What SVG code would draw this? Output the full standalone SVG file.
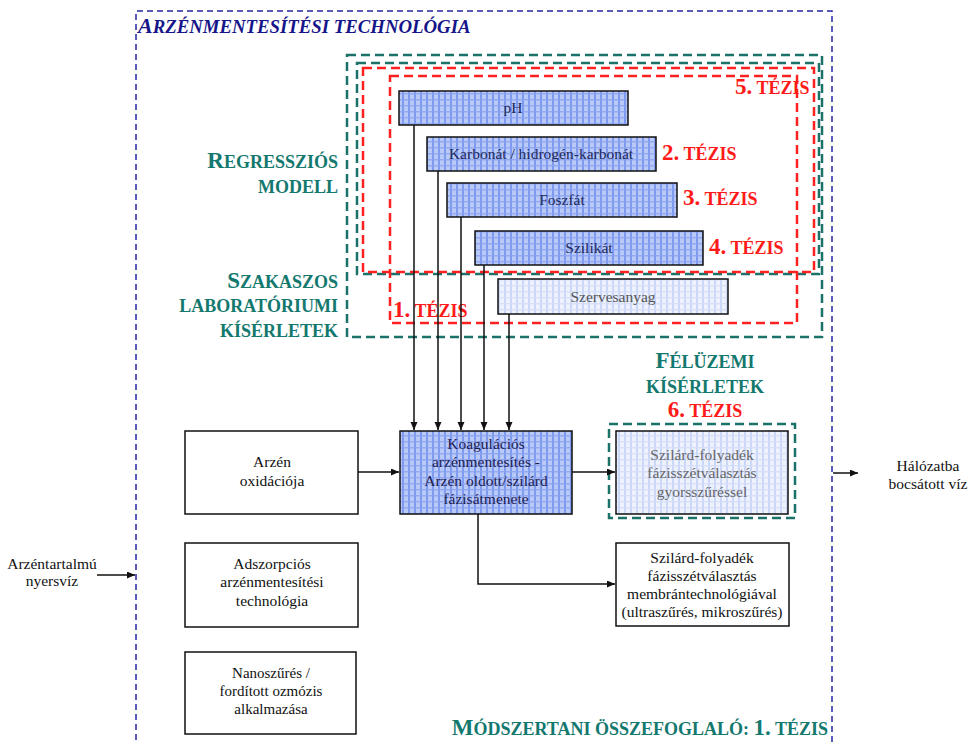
<svg xmlns="http://www.w3.org/2000/svg" width="972" height="743" viewBox="0 0 972 743">
<style>
.serif{font-family:"Liberation Serif","Times New Roman",serif}
.lbl{font-family:"Liberation Serif","Times New Roman",serif;font-size:15.5px;fill:#111;text-anchor:middle}
.bar{stroke:#111;stroke-width:1.5;fill:url(#grid)}
.barl{stroke:#111;stroke-width:1.5;fill:url(#gridl)}
.box{stroke:#111;stroke-width:1.5;fill:#fff}
.bt{font-family:"Liberation Serif","Times New Roman",serif;font-size:15.5px;fill:#222a58;text-anchor:middle}
.teal{font-family:"Liberation Serif","Times New Roman",serif;font-weight:bold;fill:#13786e}
.red{font-family:"Liberation Serif","Times New Roman",serif;font-weight:bold;fill:#ff1a1a}
.tdash{fill:none;stroke:#1b7268;stroke-width:2.5;stroke-dasharray:9 5}
.rdash{fill:none;stroke:#ff2020;stroke-width:2.5;stroke-dasharray:9 5}
.conn{fill:none;stroke:#111;stroke-width:1.5}
.big{font-size:23px}
.sm{font-size:18px}
</style>
<defs>
<pattern id="grid" width="6" height="6" patternUnits="userSpaceOnUse">
<rect width="6" height="6" fill="#b9c9f8"/>
<rect x="0" y="0" width="2" height="6" fill="#7e9aee"/>
<rect x="0" y="3" width="6" height="1.5" fill="#8aa3f0" opacity="0.8"/>
</pattern>
<pattern id="gridl" width="6" height="6" patternUnits="userSpaceOnUse">
<rect width="6" height="6" fill="#eef2fd"/>
<rect x="0" y="0" width="2" height="6" fill="#cbd7f8"/>
<rect x="0" y="3" width="6" height="1.5" fill="#d3ddf9" opacity="0.8"/>
</pattern>
<marker id="arr" markerWidth="9" markerHeight="8" refX="8" refY="3.5" orient="auto" markerUnits="userSpaceOnUse">
<path d="M0,0 L8,3.5 L0,7 z" fill="#111"/>
</marker>
</defs>

<g id="frame">
<path d="M136,760 V11 H832 V760" fill="none" stroke="#2424a0" stroke-width="1.5" stroke-dasharray="6 4"/>
<text x="138" y="33" class="serif" font-weight="bold" font-style="italic" fill="#16168a"><tspan font-size="22">A</tspan><tspan font-size="18.8">RZÉNMENTESÍTÉSI TECHNOLÓGIA</tspan></text>
</g>

<g id="groups">
<rect class="tdash" x="347" y="55" width="475" height="282"/>
<rect class="tdash" x="357" y="63" width="462" height="211"/>
<rect class="rdash" x="363" y="68" width="451" height="204"/>
<rect class="rdash" x="390" y="76" width="407" height="247"/>
<text class="teal" x="338" y="168" text-anchor="end"><tspan class="big">R</tspan><tspan class="sm">EGRESSZIÓS</tspan></text>
<text class="teal sm" x="338" y="193" text-anchor="end">MODELL</text>
<text class="teal" x="338" y="288" text-anchor="end"><tspan class="big">S</tspan><tspan class="sm">ZAKASZOS</tspan></text>
<text class="teal sm" x="338" y="312" text-anchor="end">LABORATÓRIUMI</text>
<text class="teal sm" x="338" y="337" text-anchor="end">KÍSÉRLETEK</text>
<text class="red" x="735" y="94"><tspan class="big">5.</tspan><tspan class="sm"> TÉZIS</tspan></text>
<text class="red" x="662" y="160"><tspan class="big">2.</tspan><tspan class="sm"> TÉZIS</tspan></text>
<text class="red" x="683" y="205"><tspan class="big">3.</tspan><tspan class="sm"> TÉZIS</tspan></text>
<text class="red" x="709" y="254"><tspan class="big">4.</tspan><tspan class="sm"> TÉZIS</tspan></text>
<text class="red" x="393" y="317"><tspan class="big">1.</tspan><tspan class="sm"> TÉZIS</tspan></text>
<text class="teal" x="705" y="368" text-anchor="middle"><tspan class="big">F</tspan><tspan class="sm">ÉLÜZEMI</tspan></text>
<text class="teal sm" x="705" y="393" text-anchor="middle">KÍSÉRLETEK</text>
<text class="red" x="705" y="417" text-anchor="middle"><tspan class="big">6.</tspan><tspan class="sm"> TÉZIS</tspan></text>
<rect class="tdash" x="609" y="424" width="186" height="94"/>
<text class="teal" x="828" y="735" text-anchor="end"><tspan class="big">M</tspan><tspan class="sm">ÓDSZERTANI ÖSSZEFOGLALÓ: </tspan><tspan class="big">1.</tspan><tspan class="sm"> TÉZIS</tspan></text>
</g>

<g id="node-ph"><rect class="bar" x="399" y="91" width="229" height="34"/><text class="bt" x="513" y="113">pH</text></g>
<g id="node-karbonat"><rect class="bar" x="427" y="137" width="229" height="34"/><text class="bt" x="541" y="159">Karbonát / hidrogén-karbonát</text></g>
<g id="node-foszfat"><rect class="bar" x="447" y="183" width="230" height="34"/><text class="bt" x="562" y="205">Foszfát</text></g>
<g id="node-szilikat"><rect class="bar" x="475" y="231" width="228" height="34"/><text class="bt" x="589" y="253">Szilikát</text></g>
<g id="node-szervesanyag"><rect class="barl" x="498" y="279" width="230" height="35"/><text class="bt" x="613" y="302" style="fill:#555">Szervesanyag</text></g>

<g id="node-koag"><rect class="bar" x="400" y="431" width="172" height="83"/>
<text class="lbl" style="fill:#1e2050"><tspan x="486" y="449">Koagulációs</tspan><tspan x="486" y="467">arzénmentesítés -</tspan><tspan x="486" y="486">Arzén oldott/szilárd</tspan><tspan x="486" y="504">fázisátmenete</tspan></text></g>

<g id="node-gyors"><rect class="barl" x="616" y="431" width="172" height="83"/>
<text class="lbl" style="fill:#666"><tspan x="702" y="460">Szilárd-folyadék</tspan><tspan x="702" y="478">fázisszétválasztás</tspan><tspan x="702" y="497">gyorsszűréssel</tspan></text></g>

<g id="node-membran"><rect class="box" x="616" y="543" width="173" height="83"/>
<text class="lbl"><tspan x="702" y="563">Szilárd-folyadék</tspan><tspan x="702" y="581">fázisszétválasztás</tspan><tspan x="702" y="599">membrántechnológiával</tspan><tspan x="702" y="617">(ultraszűrés, mikroszűrés)</tspan></text></g>

<g id="node-oxidacio"><rect class="box" x="185" y="431" width="173" height="83"/>
<text class="lbl"><tspan x="272" y="467">Arzén</tspan><tspan x="272" y="486">oxidációja</tspan></text></g>

<g id="node-adszorpcio"><rect class="box" x="185" y="543" width="173" height="84"/>
<text class="lbl"><tspan x="272" y="569">Adszorpciós</tspan><tspan x="272" y="587">arzénmentesítési</tspan><tspan x="272" y="606">technológia</tspan></text></g>

<g id="node-nano"><rect class="box" x="185" y="652" width="171" height="82"/>
<text class="lbl" style="font-size:15px"><tspan x="271" y="678">Nanoszűrés /</tspan><tspan x="271" y="696">fordított ozmózis</tspan><tspan x="271" y="714">alkalmazása</tspan></text></g>

<g id="node-nyersviz"><text class="lbl"><tspan x="52" y="569">Arzéntartalmú</tspan><tspan x="52" y="586">nyersvíz</tspan></text></g>
<g id="node-halozat"><text class="lbl"><tspan x="928" y="471">Hálózatba</tspan><tspan x="928" y="489">bocsátott víz</tspan></text></g>

<g id="connectors">
<path class="conn" d="M414,125 V430" marker-end="url(#arr)"/>
<path class="conn" d="M438,171 V430" marker-end="url(#arr)"/>
<path class="conn" d="M461,217 V430" marker-end="url(#arr)"/>
<path class="conn" d="M484,265 V430" marker-end="url(#arr)"/>
<path class="conn" d="M509,314 V430" marker-end="url(#arr)"/>
<path class="conn" d="M358,472 H399" marker-end="url(#arr)"/>
<path class="conn" d="M572,472 H615" marker-end="url(#arr)"/>
<path class="conn" d="M478,514 V584 H615" marker-end="url(#arr)"/>
<path class="conn" d="M97,575 H135" marker-end="url(#arr)"/>
<path class="conn" d="M833,473 H858" marker-end="url(#arr)"/>
</g>
</svg>
